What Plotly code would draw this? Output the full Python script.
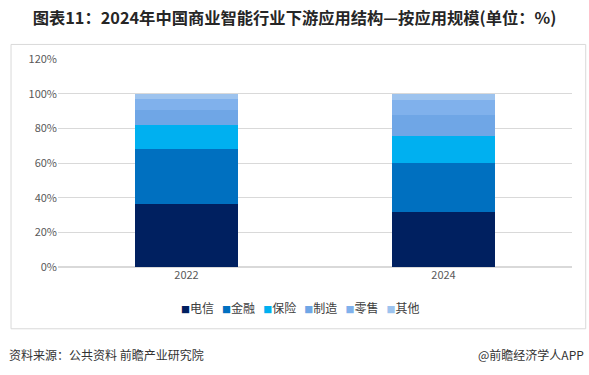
import plotly.graph_objects as go

years = ["2022", "2024"]
series_names = ["电信", "金融", "保险", "制造", "零售", "其他"]
dianxin = [36.2, 32.0]
jinrong = [31.8, 27.9]
baoxian = [14.0, 15.7]
zhizao = [8.7, 12.2]
lingshou = [6.2, 8.3]
qita = [3.1, 3.9]
series_values = [dianxin, jinrong, baoxian, zhizao, lingshou, qita]
colors = ["#002060", "#0070C0", "#00B0F0", "#6FA6E6", "#80B1EC", "#9DC3EE"]
y_ticks = [0, 20, 40, 60, 80, 100, 120]
y_tick_labels = [f"{v}%" for v in y_ticks]

fig = go.Figure()
for name, vals, c in zip(series_names, series_values, colors):
    fig.add_trace(go.Bar(x=years, y=vals, name=name, marker_color=c,
                         marker_line_width=0, width=0.4, showlegend=False))

legend_text = "&nbsp;&nbsp;&nbsp;".join(
    f"<span style='color:{c};font-size:9px'>■</span>{n}" for n, c in zip(series_names, colors)
)

font_cjk = "Microsoft YaHei, Noto Sans CJK SC, sans-serif"
fig.update_layout(
    barmode="stack",
    width=589, height=375,
    margin=dict(l=58, r=17, t=59, b=108),
    paper_bgcolor="white", plot_bgcolor="white",
    font=dict(family=font_cjk, color="#595959", size=11),
    title=dict(text="<b>图表11：2024年中国商业智能行业下游应用结构—按应用规模(单位：%)</b>",
               x=0.5, xanchor="center", y=0.952, yanchor="middle",
               font=dict(size=16.3, color="#262626", family=font_cjk)),
    xaxis=dict(type="category", showline=False, ticks="", tickfont=dict(size=11, color="#595959")),
    yaxis=dict(range=[0, 120], tickvals=y_ticks, ticktext=y_tick_labels,
               showgrid=True, gridcolor="#D9D9D9", gridwidth=1, zeroline=True,
               zerolinecolor="#D9D9D9", ticks="", tickfont=dict(size=11, color="#595959")),
    showlegend=False,
    shapes=[dict(type="rect", xref="paper", yref="paper", x0=-0.0914, x1=1.0267,
                 y0=-0.297, y1=1.070, line=dict(color="#D9D9D9", width=1), layer="below")],
    annotations=[
        dict(text=legend_text, xref="paper", yref="paper",
             x=0.472, xanchor="center", y=-0.196, yanchor="middle", showarrow=False,
             font=dict(size=12, color="#404040")),
        dict(text="资料来源：公共资料 前瞻产业研究院", xref="paper", yref="paper",
             x=-0.099, xanchor="left", y=-0.423, yanchor="middle", showarrow=False,
             font=dict(size=12, color="#333333")),
        dict(text="@前瞻经济学人APP", xref="paper", yref="paper",
             x=1.027, xanchor="right", y=-0.423, yanchor="middle", showarrow=False,
             font=dict(size=12, color="#333333")),
    ],
)
fig.write_html("out.html", config={"displayModeBar": False},
               post_script="document.body.style.margin='0';")
